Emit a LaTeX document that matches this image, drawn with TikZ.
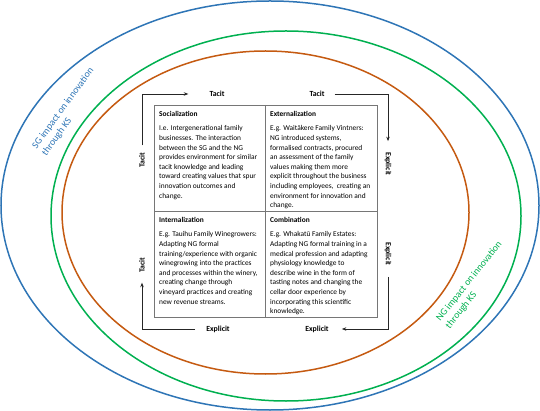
\documentclass[tikz,border=0pt]{standalone}
\usepackage{fontspec}
\setmainfont{Carlito}
\usetikzlibrary{arrows.meta}
\definecolor{sgblue}{HTML}{2E75B6}
\definecolor{nggreen}{HTML}{00B050}
\definecolor{ksorange}{HTML}{C55A11}
\definecolor{gridgray}{HTML}{767676}
\begin{document}
\begin{tikzpicture}[x=1pt,y=-1pt,
  ring/.style={line width=1.5pt},
  gridline/.style={draw=gridgray,line width=0.9pt},
  head/.style={anchor=west,inner sep=0pt,font=\fontsize{7.4}{9.6}\selectfont\bfseries},
  body/.style={anchor=north west,inner sep=0pt,align=left,font=\fontsize{7.4}{9.6}\selectfont},
  lbl/.style={inner sep=0pt,font=\fontsize{7.8}{9}\selectfont\bfseries},
  flow/.style={draw=black!85,line width=0.8pt,-{Stealth[length=4.5pt,width=3.5pt]}},
  ringlbl/.style={inner sep=0pt,align=left,font=\fontsize{9.8}{12}\selectfont}]
\useasboundingbox (0,0) rectangle (540,411);
% rings
\draw[ring,sgblue] (270,205.5) ellipse [x radius=269, y radius=204.5];
\draw[ring,nggreen] (286,216) ellipse [x radius=235, y radius=185];
\draw[ring,ksorange] (265.5,212.5) ellipse [x radius=203.5, y radius=161.5];
\node[ringlbl,text=sgblue,rotate=54] (sg) at (68,112) {SG impact on innovation\\through KS};
\node[ringlbl,text=nggreen,rotate=51.5] (ng) at (474,285) {NG impact on innovation\\through KS};
% table
\draw[gridline] (154,105) rectangle (377,317);
\draw[gridline] (265,105) -- (265,317);
\draw[gridline] (154,211) -- (377,211);
\node[head] (socH) at (159,113.5) {Socialization};
\node[body] (socB) at (159,125.5) {I.e. Intergenerational family\\businesses. The interaction\\between the SG and the NG\\provides environment for similar\\tacit knowledge and leading\\toward creating values that spur\\innovation outcomes and\\change.};
\node[head] (extH) at (270,113.5) {Externalization};
\node[body] (extB) at (270,125.5) {E.g. Waitākere Family Vintners:\\NG introduced systems,\\formalised contracts, procured\\an assessment of the family\\values making them more\\explicit throughout the business\\including employees,~ creating an\\environment for innovation and\\change.};
\node[head] (intH) at (159,219.5) {Internalization};
\node[body] (intB) at (159,231.5) {E.g. Tauihu Family Winegrowers:\\Adapting NG formal\\training/experience with organic\\winegrowing into the practices\\and processes within the winery,\\creating change through\\vineyard practices and creating\\new revenue streams.};
\node[head] (comH) at (270,219.5) {Combination};
\node[body] (comB) at (270,231.5) {E.g. Whakatū Family Estates:\\Adapting NG formal training in a\\medical profession and adapting\\physiology knowledge to\\describe wine in the form of\\tasting notes and changing the\\cellar door experience by\\incorporating this scientific\\knowledge.};
% flow labels
\node[lbl] (tacitT1) at (217,94) {Tacit};
\node[lbl] (tacitT2) at (317,94) {Tacit};
\node[lbl,rotate=-90] (explR1) at (388,164) {Explicit};
\node[lbl,rotate=-90] (explR2) at (388,254) {Explicit};
\node[lbl] (explB2) at (317,329) {Explicit};
\node[lbl] (explB1) at (218,329) {Explicit};
\node[lbl,rotate=90] (tacitL2) at (142,265) {Tacit};
\node[lbl,rotate=90] (tacitL1) at (142,160) {Tacit};
% flow arrows
\draw[flow,shorten <=7pt,shorten >=21pt] (tacitL1.east) |- (tacitT1.west);
\draw[flow,shorten <=10pt,shorten >=11pt] (tacitT2.east) -| (explR1.west);
\draw[flow,shorten <=11pt,shorten >=13pt] (explR2.east) |- (explB2.east);
\draw[flow,shorten <=11pt,shorten >=10pt] (explB1.west) -| (tacitL2.west);
\end{tikzpicture}
\end{document}
